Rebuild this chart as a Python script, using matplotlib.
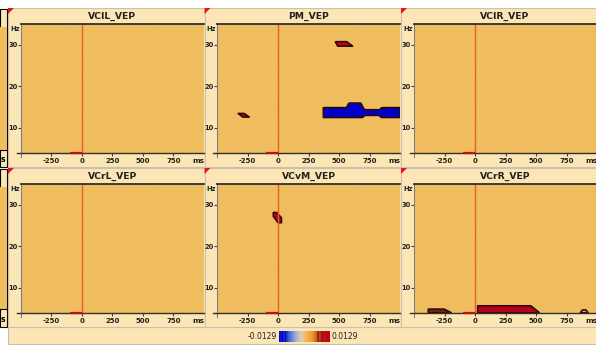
import numpy as np
import matplotlib
matplotlib.use("Agg")
import matplotlib.pyplot as plt
from matplotlib.colors import LinearSegmentedColormap, Normalize
from matplotlib.path import Path
from matplotlib.patches import Rectangle, Polygon
from matplotlib.lines import Line2D
import matplotlib.cm as cm

# ---------------- data ----------------
panel_titles = ["VCIL_VEP", "PM_VEP", "VCIR_VEP", "VCrL_VEP", "VCvM_VEP", "VCrR_VEP"]
x_ticks = [-250, 0, 250, 500, 750]
y_ticks = [10, 20, 30]
time_range = (-500, 1000)
freq_range = (3.9, 35)
c_min, c_max = -0.0129, 0.0129

# significant clusters (time ms, frequency Hz outline, value)
pm_red1_ms = [-330, -280, -235, -290]
pm_red1_hz = [13.5, 13.5, 12.6, 12.6]
pm_red1_val = 0.0129

pm_red2_ms = [470, 565, 615, 490]
pm_red2_hz = [30.7, 30.7, 29.6, 29.6]
pm_red2_val = 0.0129

pm_blue_ms = [370, 560, 580, 680, 710, 830, 850, 1000, 1000, 850, 830, 710, 690, 370]
pm_blue_hz = [14.8, 14.8, 15.9, 15.9, 14.3, 14.3, 14.8, 14.8, 12.4, 12.4, 12.9, 12.9, 12.4, 12.4]
pm_blue_val = -0.0129

vcvm_red_ms = [-38, -10, 30, 30, 0, -38]
vcvm_red_hz = [28.1, 28.1, 26.8, 25.6, 25.6, 27.2]
vcvm_red_val = 0.0129

vcrr_red_ms = [20, 20, 460, 530]
vcrr_red_hz = [3.9, 5.6, 5.6, 3.9]
vcrr_red_val = 0.0129

vcrr_dark_ms = [-385, -385, -250, -190]
vcrr_dark_hz = [3.9, 4.8, 4.8, 3.9]
vcrr_dark_val = 0.0070

vcrr_small_ms = [860, 880, 910, 930]
vcrr_small_hz = [3.9, 4.6, 4.6, 3.9]
vcrr_small_val = 0.0040

panel_clusters = {
    "VCIL_VEP": [],
    "PM_VEP": [(pm_red1_ms, pm_red1_hz, pm_red1_val),
               (pm_red2_ms, pm_red2_hz, pm_red2_val),
               (pm_blue_ms, pm_blue_hz, pm_blue_val)],
    "VCIR_VEP": [],
    "VCrL_VEP": [],
    "VCvM_VEP": [(vcvm_red_ms, vcvm_red_hz, vcvm_red_val)],
    "VCrR_VEP": [(vcrr_red_ms, vcrr_red_hz, vcrr_red_val),
                 (vcrr_dark_ms, vcrr_dark_hz, vcrr_dark_val),
                 (vcrr_small_ms, vcrr_small_hz, vcrr_small_val)],
}

# ---------------- style ----------------
W, H = 596, 349
CREAM = "#FCE6B6"
BORDER = "#C9C0AE"
NARROW = ["Liberation Sans Narrow", "DejaVu Sans"]

cmap = LinearSegmentedColormap.from_list("tfmap", [
    (0.00, (0/255, 0/255, 200/255)),
    (0.05, (20/255, 25/255, 230/255)),
    (0.07, (0/255, 0/255, 140/255)),
    (0.09, (30/255, 40/255, 230/255)),
    (0.13, (10/255, 20/255, 180/255)),
    (0.18, (60/255, 90/255, 220/255)),
    (0.30, (140/255, 160/255, 215/255)),
    (0.40, (200/255, 200/255, 200/255)),
    (0.47, (230/255, 200/255, 150/255)),
    (0.50, (240/255, 190/255, 96/255)),
    (0.55, (240/255, 180/255, 90/255)),
    (0.64, (240/255, 155/255, 55/255)),
    (0.71, (225/255, 115/255, 30/255)),
    (0.745, (195/255, 80/255, 20/255)),
    (0.77, (110/255, 30/255, 15/255)),
    (0.80, (210/255, 70/255, 20/255)),
    (0.84, (150/255, 20/255, 10/255)),
    (0.88, (200/255, 10/255, 30/255)),
    (1.00, (185/255, 0/255, 25/255)),
])
norm = Normalize(c_min, c_max)


def fx(px):
    return px / W


def fy(py):
    return 1 - py / H


fig = plt.figure(figsize=(W / 100, H / 100), dpi=100, facecolor="white")


def frect(x0, y0, x1, y1, zorder=-10, **kw):
    r = Rectangle((fx(x0), fy(y1)), fx(x1) - fx(x0), fy(y0) - fy(y1),
                  transform=fig.transFigure, zorder=zorder, **kw)
    fig.patches.append(r)
    return r


# left partial neighbour column
for (top, mid, bot, lab_y, end) in [(9, 27, 150, 160, 167), (169, 187, 309, 319, 327)]:
    frect(0, top, 6.5, end, facecolor=CREAM, edgecolor="black", lw=0.8)
    frect(0, mid, 6.5, bot, zorder=-9, facecolor="#F0BE60", edgecolor="none")
    fig.lines.append(Line2D([fx(0), fx(6.5)], [fy(bot), fy(bot)], color="black", lw=0.8,
                            transform=fig.transFigure))
    fig.text(fx(3.2), fy(lab_y), "s", ha="center", va="center",
             fontsize=5.5, fontweight="bold", family=NARROW)

# panels
col_x0 = [8, 204.5, 401]
col_x1 = [204.5, 401, 597]
plot_left = [21, 217, 414]
row_y0 = [8, 168]
row_y1 = [167, 327]
plot_w = 183
plot_h = 129

# bottom colorbar band
frect(8, 327, 597, 344, facecolor=CREAM, edgecolor=BORDER, lw=0.8)

t_grid = np.linspace(time_range[0], time_range[1], 601)
f_grid = np.linspace(freq_range[0], freq_range[1], 312)
T, F = np.meshgrid(t_grid, f_grid)
pts = np.column_stack([T.ravel(), F.ravel()])

for i, title in enumerate(panel_titles):
    r, c = divmod(i, 3)
    frect(col_x0[c], row_y0[r], col_x1[c], row_y1[r], facecolor=CREAM, edgecolor=BORDER, lw=0.8)
    # red corner triangle
    tri = Polygon([[fx(col_x0[c]), fy(row_y0[r])], [fx(col_x0[c] + 6), fy(row_y0[r])],
                   [fx(col_x0[c]), fy(row_y0[r] + 6)]], closed=True,
                  transform=fig.transFigure, facecolor="#E8141C", edgecolor="none", zorder=5)
    fig.patches.append(tri)
    cx = (col_x0[c] + min(col_x1[c], 597)) / 2 + 6
    fig.text(fx(cx), fy(row_y0[r] + 8.5), title, ha="center", va="center",
             fontsize=6.7, fontweight="bold", family=NARROW, color="#202020")

    ptop = row_y0[r] + 16
    ax = fig.add_axes([fx(plot_left[c]), fy(ptop + plot_h), plot_w / W, plot_h / H])

    Z = np.zeros(T.shape)
    mask = np.zeros(T.shape, dtype=bool)
    for ms, hz, val in panel_clusters[title]:
        inside = Path(np.column_stack([ms, hz])).contains_points(pts).reshape(T.shape)
        Z[inside] = val
        mask |= inside
    ax.imshow(Z, extent=[time_range[0], time_range[1], freq_range[0], freq_range[1]],
              origin="lower", aspect="auto", cmap=cmap, norm=norm, interpolation="bilinear")
    if mask.any():
        ax.contour(T, F, mask.astype(float), levels=[0.5], colors="#2A0A08", linewidths=1.1)

    ax.set_xlim(*time_range)
    ax.set_ylim(*freq_range)
    ax.axvline(0, color="#F05A28", lw=1.0)
    ax.plot([-100, 0], [freq_range[0], freq_range[0]], color="#C01010", lw=1.6,
            clip_on=False, zorder=6, solid_capstyle="butt")

    ax.set_xticks(x_ticks)
    ax.set_yticks(y_ticks)
    ax.set_xticklabels([str(v) for v in x_ticks])
    ax.set_yticklabels([str(v) for v in y_ticks])
    ax.tick_params(axis="x", length=2, pad=1.5, labelsize=5, color="#404040")
    ax.tick_params(axis="y", length=2, pad=0.5, labelsize=4.8, color="#404040")
    for lbl in ax.get_xticklabels() + ax.get_yticklabels():
        lbl.set_family(NARROW)
        lbl.set_fontweight("bold")
        lbl.set_color("#202020")
    ax.spines["right"].set_visible(False)
    ax.spines["left"].set_color("#808080")
    ax.spines["left"].set_linewidth(0.8)
    ax.spines["bottom"].set_color("#303030")
    ax.spines["bottom"].set_linewidth(1.0)
    ax.spines["top"].set_color("#303030")
    ax.spines["top"].set_linewidth(1.3)
    ax.add_line(Line2D([-4 / plot_w, 0], [0, 0], transform=ax.transAxes, color="#303030",
                       lw=1.0, clip_on=False))
    ax.add_line(Line2D([0, 0], [-4 / plot_h, 0], transform=ax.transAxes, color="#808080",
                       lw=0.8, clip_on=False))
    ax.text(-6 / plot_w, 1 - 5 / plot_h, "Hz", transform=ax.transAxes, ha="center",
            va="center", fontsize=4.8, fontweight="bold", family=NARROW, color="#202020")
    ax.text(950, -0.062, "ms", transform=ax.get_xaxis_transform(), ha="center", va="center",
            fontsize=5.2, fontweight="bold", family=NARROW, color="#202020", clip_on=False)

# colorbar
cax = fig.add_axes([fx(279), fy(342), 51 / W, 11 / H])
cb = fig.colorbar(cm.ScalarMappable(norm=norm, cmap=cmap), cax=cax, orientation="horizontal")
cb.set_ticks([])
cb.outline.set_visible(False)
fig.text(fx(277), fy(336.5), f"{c_min}", ha="right", va="center", fontsize=5.5,
         family=NARROW, color="#202020")
fig.text(fx(332), fy(336.5), f"{c_max}", ha="left", va="center", fontsize=5.5,
         family=NARROW, color="#202020")

fig.savefig("out.png", dpi=100, facecolor="white")
